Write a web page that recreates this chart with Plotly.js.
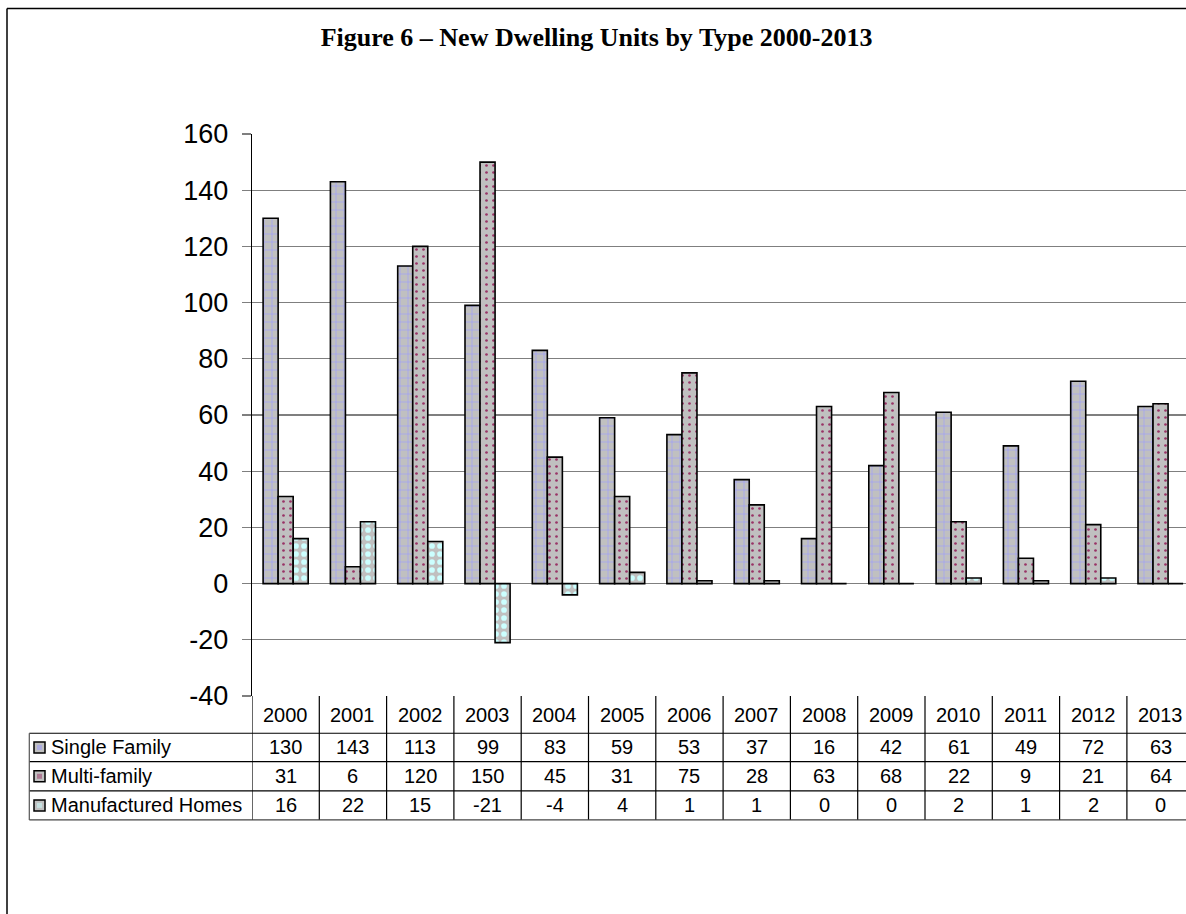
<!DOCTYPE html>
<html>
<head>
<meta charset="utf-8">
<script src="https://cdn.plot.ly/plotly-3.0.1.min.js"></script>
<style>
html,body{margin:0;padding:0;background:#fff;overflow:hidden;}
#chart{width:1186px;height:914px;}
</style>
</head>
<body>
<div id="chart"></div>
<script>
const years = ['2000','2001','2002','2003','2004','2005','2006','2007','2008','2009','2010','2011','2012','2013'];
const singleFamily = [130,143,113,99,83,59,53,37,16,42,61,49,72,63];
const multiFamily = [31,6,120,150,45,31,75,28,63,68,22,9,21,64];
const manufactured = [16,22,15,-21,-4,4,1,1,0,0,2,1,2,0];
const seriesNames = ['Single Family','Multi-family','Manufactured Homes'];
const yTickVals = [-40,-20,0,20,40,60,80,100,120,140,160];
const yTickText = ['-40','-20','0','20','40','60','80','100','120','140','160'];
const titleText = 'Figure 6 \u2013 New Dwelling Units by Type 2000-2013';

const W = 1186, H = 914;
const L = 252, R = 1186, T = 133.5, B = 696;
const px = v => (v - L) / (R - L);
const py = v => (B - v) / (B - T);

const xIdx = years.map((_, i) => i);

const patterns = [
  {shape:'+', bgcolor:'#c0c0c0', fgcolor:'#9999ff', size:8, solidity:0.15, fillmode:'replace'},
  {shape:'.', bgcolor:'#c0c0c0', fgcolor:'#993366', size:7, solidity:0.12, fillmode:'replace'},
  {shape:'.', bgcolor:'#c0c0c0', fgcolor:'#ccffff', size:8, solidity:0.4, fillmode:'replace'}
];
const seriesVals = [singleFamily, multiFamily, manufactured];

const traces = seriesVals.map((vals, k) => ({
  type:'bar', x:xIdx, y:vals, name:seriesNames[k],
  marker:{color:'#c0c0c0', pattern:patterns[k], line:{color:'#000', width:1.6}},
  hoverinfo:'skip'
}));

const shapes = [];
const annotations = [];

// outer frame
shapes.push({type:'line', xref:'paper', yref:'paper', x0:px(7), x1:px(1200), y0:py(8), y1:py(8), line:{color:'#000', width:1.5}});
shapes.push({type:'line', xref:'paper', yref:'paper', x0:px(7), x1:px(7), y0:py(8), y1:py(930), line:{color:'#000', width:1.5}});

// table geometry (pixel rows)
const rowTops = [696, 733.3, 761.7, 791, 820];
for (let i = 0; i <= years.length; i++) {
  shapes.push({type:'line', xref:'x', yref:'paper', x0:i-0.5, x1:i-0.5, y0:py(696), y1:py(820), line:{color:'#000', width:1.2}});
}
for (let r = 1; r < rowTops.length; r++) {
  shapes.push({type:'line', xref:'paper', yref:'paper', x0:px(29.3), x1:px(1200), y0:py(rowTops[r]), y1:py(rowTops[r]), line:{color: r===rowTops.length-1 ? '#444' : '#000', width:1.2}});
}
shapes.push({type:'line', xref:'paper', yref:'paper', x0:px(29.3), x1:px(29.3), y0:py(733.3), y1:py(820), line:{color:'#555', width:1.2}});

years.forEach((y, i) => {
  annotations.push({xref:'x', yref:'paper', x:i, y:py((696+733.3)/2), text:y, showarrow:false,
    xanchor:'center', yanchor:'middle', font:{family:'Liberation Sans, Arial', size:20, color:'#000'}});
});
const keyFill = ['#9999ff','#993366','#ccffff'];
seriesVals.forEach((vals, k) => {
  const cy = (rowTops[k+1] + rowTops[k+2]) / 2;
  vals.forEach((v, i) => {
    annotations.push({xref:'x', yref:'paper', x:i, y:py(cy), text:String(v), showarrow:false,
      xanchor:'center', yanchor:'middle', font:{family:'Liberation Sans, Arial', size:20, color:'#000'}});
  });
  annotations.push({xref:'paper', yref:'paper', x:px(49), y:py(cy), text:seriesNames[k], showarrow:false,
    xanchor:'left', yanchor:'middle', font:{family:'Liberation Sans, Arial', size:20, color:'#000'}});
  shapes.push({type:'rect', xref:'paper', yref:'paper', x0:px(34), x1:px(45), y0:py(cy-5.5), y1:py(cy+5.5),
    fillcolor:'#c0c0c0', line:{color:'#000', width:1.5}});
  shapes.push({type:'rect', xref:'paper', yref:'paper', x0:px(37), x1:px(42), y0:py(cy-2.5), y1:py(cy+2.5),
    fillcolor:keyFill[k], opacity:0.5, line:{width:0}});
});

const layout = {
  width:W, height:H,
  margin:{l:L, r:W-R, t:T, b:H-B, pad:0},
  paper_bgcolor:'#fff', plot_bgcolor:'#fff',
  showlegend:false,
  barmode:'group', bargap:0.33, bargroupgap:0,
  title:{text:'<b>'+titleText+'</b>', x:0.503, xanchor:'center', y:1-37/H, yanchor:'middle',
    font:{family:'Liberation Serif, Times New Roman, serif', size:26, color:'#000'}},
  xaxis:{range:[-0.5, (R-L)/67.3 - 0.5], showticklabels:false, showgrid:false, zeroline:false, showline:false, ticks:'', fixedrange:true},
  yaxis:{range:[-40,160], tickmode:'array', tickvals:yTickVals, ticktext:yTickText,
    showgrid:true, gridcolor:'#7f7f7f', gridwidth:1.3,
    zeroline:true, zerolinecolor:'#7f7f7f', zerolinewidth:1.3,
    showline:true, linecolor:'#000', linewidth:1.3,
    ticks:'outside', ticklen:9, tickcolor:'#7f7f7f', tickwidth:1.3,
    ticklabelstandoff:8,
    tickfont:{family:'Liberation Sans, Arial', size:27, color:'#000'}, fixedrange:true},
  shapes:shapes, annotations:annotations
};

Plotly.newPlot('chart', traces, layout, {staticPlot:true, displayModeBar:false});
</script>
</body>
</html>
